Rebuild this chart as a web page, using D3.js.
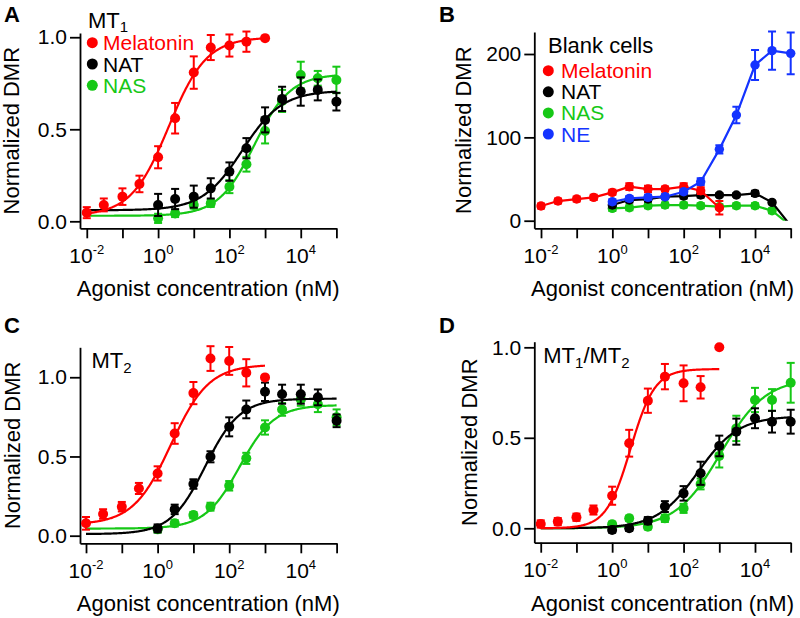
<!DOCTYPE html>
<html><head><meta charset="utf-8">
<script src="https://cdn.jsdelivr.net/npm/d3@7"></script>
<style>
body{margin:0;background:#fff}
svg text{font-family:"Liberation Sans",Arial,Helvetica,sans-serif}
</style>
</head><body>
<svg id="chart" width="800" height="618"></svg>
<script>
// ---------------- DATA ----------------
const concLow  = [0.01,0.03,0.1,0.3,1,3,10,30,100,300,1000];          // nM
const concHigh = [1,3,10,30,100,300,1000,3000,10000,30000,100000];    // nM
const xTickExps  = [-2,-1,0,1,2,3,4,5];
const xLabelExps = [-2,0,2,4];
const seriesNames = ["Melatonin","NAT","NAS","NE"];

// Panel A: MT1
const aMel    = [0.047,0.089,0.134,0.203,0.348,0.56,0.808,0.944,0.955,0.976,0.995];
const aMelErr = [0.03,0.035,0.045,0.045,0.06,0.083,0.088,0.068,0.06,0.055,0];
const aNat    = [0.089,0.121,0.134,0.179,0.27,0.397,0.551,0.665,0.705,0.714,0.65];
const aNatErr = [0.06,0.055,0.06,0.055,0.05,0.055,0.068,0.066,0.077,0.057,0.048];
const aNas    = [0.016,0.043,0.089,0.098,0.188,0.31,0.491,0.654,0.795,0.777,0.768];
const aNasErr = [0.025,0.02,0.02,0.02,0.035,0.04,0.068,0.06,0.072,0.04,0.072];
// fit: [bottom, top, logEC50, hill, logXfrom, logXto]
const aMelFit = [0.03,1.0,0.30,0.82,-2,3];
const aNatFit = [0.06,0.71,2.36,0.78,-2,5];
const aNasFit = [0.03,0.80,2.70,0.86,-2,5];

// Panel B: blank cells
const bMel    = [17.6,23.6,26,28,34,40.8,38,38,40.8,36,15.6];
const bMelErr = [3,3,3,3,3,4,4,3,4,4,8];
const bNat    = [18.8,24.8,26,28.8,29.6,30.8,30.8,30.8,32.8,22,-6];
const bNatErr = [3,3,3,2,3,3,2,2,3,2,0];
const bNas    = [14.8,15.6,18,18.8,18.8,18,16.8,18,18,12,-6];
const bNasErr = [3,3,3,3,3,3,3,3,3,3,0];
const bNe     = [22.8,26.8,28,28.8,34.8,46.8,85.6,126.8,186.8,204,200.8];
const bNeErr  = [3,3,3,3,3,4,5,10,18,23,25];

// Panel C: MT2
const cMel    = [0.078,0.137,0.183,0.298,0.393,0.645,0.9,1.118,1.103,1.028,0.999];
const cMelErr = [0.04,0.03,0.03,0.035,0.045,0.065,0.07,0.078,0.088,0.086,0];
const cNat    = [0.046,0.166,0.326,0.498,0.687,0.797,0.908,0.893,0.893,0.873,0.725];
const cNatErr = [0.025,0.03,0.03,0.035,0.06,0.056,0.058,0.06,0.06,0.05,0.04];
const cNas    = [0.04,0.078,0.13,0.183,0.315,0.488,0.683,0.797,0.86,0.83,0.747];
const cNasErr = [0.02,0.02,0.02,0.025,0.03,0.035,0.045,0.04,0.04,0.05,0.05];
const cMelFit = [0.07,1.08,0.373,0.82,-2,3];
const cNatFit = [0.01,0.865,1.33,0.90,-2,5];
const cNasFit = [0.045,0.825,2.29,0.90,-2,5];

// Panel D: MT1/MT2
const dMel    = [0.024,0.037,0.061,0.101,0.18,0.47,0.705,0.838,0.801,0.779,1.0];
const dMelErr = [0.02,0.02,0.02,0.025,0.05,0.074,0.067,0.07,0.099,0.062,0];
const dNat    = [-0.009,0,0.042,0.12,0.193,0.304,0.455,0.534,0.608,0.589,0.589];
const dNatErr = [0.015,0.015,0.02,0.03,0.04,0.064,0.057,0.072,0.055,0.06,0.066];
const dNas    = [0.022,0.055,0.009,0.055,0.11,0.245,0.4,0.552,0.709,0.709,0.804];
const dNasErr = [0.015,0.015,0.015,0.02,0.025,0.03,0.064,0.07,0.067,0.06,0.11];
const dMelFit = [0,0.88,0.516,1.28,-2,3];
const dNatFit = [0,0.62,2.40,0.76,-2,5];
const dNasFit = [0,0.83,3.04,0.69,-2,5];

// ---------------- STYLE / LAYOUT ----------------
const COL = {Melatonin:"#ff0000", NAT:"#000000", NAS:"#16c816", NE:"#1433ff"};
const FONT = 21;

const panels = [
  {letter:"A", lx:4, ly:22, left:80, right:336.4, logLeft:-2.19, bottom:228.3, top:33,
   yd:[-0.038,1.023], yTicks:[0,0.5,1], yFmt:".1f", yTitleX:19, r:5,
   title:{x:88, y:28, sub:4, parts:[["MT",0],["1",1]]},
   legend:{x:92.3, y:42.7, dy:21.3, tx:103, items:["Melatonin","NAT","NAS"]},
   series:[
     {name:"NAS", conc:concHigh, v:aNas, e:aNasErr, fit:aNasFit},
     {name:"NAT", conc:concHigh, v:aNat, e:aNatErr, fit:aNatFit},
     {name:"Melatonin", conc:concLow, v:aMel, e:aMelErr, fit:aMelFit}]},
  {letter:"B", lx:439, ly:22, left:534.3, right:790.7, logLeft:-2.188, bottom:228.3, top:32,
   yd:[-9.1,226.4], yTicks:[0,100,200], yFmt:"d", yTitleX:471, r:4.7, clipZero:true,
   title:{x:548, y:53, sub:5, parts:[["Blank cells",0]]},
   legend:{x:548.3, y:70.7, dy:21.1, tx:561, items:["Melatonin","NAT","NAS","NE"]},
   series:[
     {name:"NAS", conc:concHigh, v:bNas, e:bNasErr},
     {name:"NAT", conc:concHigh, v:bNat, e:bNatErr},
     {name:"Melatonin", conc:concLow, v:bMel, e:bMelErr},
     {name:"NE", conc:concHigh, v:bNe, e:bNeErr}]},
  {letter:"C", lx:4, ly:333, left:80, right:336.6, logLeft:-2.168, bottom:543.3, top:347.3,
   yd:[-0.048,1.189], yTicks:[0,0.5,1], yFmt:".1f", yTitleX:20, r:5,
   title:{x:91.5, y:368, sub:5, parts:[["MT",0],["2",1]]},
   series:[
     {name:"NAS", conc:concHigh, v:cNas, e:cNasErr, fit:cNasFit},
     {name:"NAT", conc:concHigh, v:cNat, e:cNatErr, fit:cNatFit},
     {name:"Melatonin", conc:concLow, v:cMel, e:cMelErr, fit:cMelFit}]},
  {letter:"D", lx:439, ly:333, left:534.3, right:790.7, logLeft:-2.18, bottom:542.7, top:341.7,
   yd:[-0.0796,1.031], yTicks:[0,0.5,1], yFmt:".1f", yTitleX:477, r:5,
   title:{x:543.3, y:363, sub:5, parts:[["MT",0],["1",1],["/MT",0],["2",1]]},
   series:[
     {name:"NAS", conc:concHigh, v:dNas, e:dNasErr, fit:dNasFit},
     {name:"NAT", conc:concHigh, v:dNat, e:dNatErr, fit:dNatFit},
     {name:"Melatonin", conc:concLow, v:dMel, e:dMelErr, fit:dMelFit}]}
];

const svg = d3.select("#chart");
const hill = (p, lx) => p[0] + (p[1]-p[0])/(1+Math.pow(10,(p[2]-lx)*p[3]));

panels.forEach((p, pi) => {
  const g = svg.append("g");
  const x = d3.scaleLog().domain([Math.pow(10,p.logLeft), 1e5]).range([p.left, p.right]);
  const y = d3.scaleLinear().domain(p.yd).range([p.bottom, p.top]);

  // panel letter
  g.append("text").attr("x",p.lx).attr("y",p.ly).attr("font-size",22).attr("font-weight","bold").text(p.letter);

  // axes
  const xa = g.append("g").attr("transform",`translate(0,${p.bottom})`)
    .call(d3.axisBottom(x).tickValues(xTickExps.map(e=>Math.pow(10,e))).tickSize(10).tickSizeOuter(0).tickFormat(""));
  const ya = g.append("g").attr("transform",`translate(${p.left},0)`)
    .call(d3.axisLeft(y).tickValues(p.yTicks).tickSize(10).tickPadding(3).tickSizeOuter(0).tickFormat(d3.format(p.yFmt)));
  [xa,ya].forEach(a=>{ a.selectAll("path,line").attr("stroke","#000").attr("stroke-width",1.8);
                       a.selectAll("text").attr("font-size",FONT).attr("fill","#000").attr("font-family",null); });

  xLabelExps.forEach(e=>{
    const t = g.append("text").attr("x",x(Math.pow(10,e))).attr("y",p.bottom+34.5)
      .attr("text-anchor","middle").attr("font-size",FONT);
    t.append("tspan").text("10");
    t.append("tspan").attr("dy",-9).attr("font-size",13).text(String(e));
  });
  g.append("text").attr("x",(p.left+p.right)/2).attr("y",p.bottom+68)
    .attr("text-anchor","middle").attr("font-size",22).text("Agonist concentration (nM)");
  g.append("text").attr("transform",`translate(${p.yTitleX},${(p.top+p.bottom)/2}) rotate(-90)`)
    .attr("text-anchor","middle").attr("font-size",22).text("Normalized DMR");

  // title
  const tt = g.append("text").attr("x",p.title.x).attr("y",p.title.y).attr("font-size",22);
  let shifted = 0;
  p.title.parts.forEach(([s,sub])=>{
    const off = sub ? p.title.sub : 0;
    tt.append("tspan").attr("dy",off - shifted).attr("font-size",sub?15:22).text(s);
    shifted = off;
  });

  // legend
  if (p.legend) {
    p.legend.items.forEach((n,i)=>{
      const cy = p.legend.y + i*p.legend.dy;
      g.append("circle").attr("cx",p.legend.x).attr("cy",cy).attr("r",5.5).attr("fill",COL[n]);
      g.append("text").attr("x",p.legend.tx).attr("y",cy+7.5).attr("font-size",21).attr("fill",COL[n]).text(n);
    });
  }

  // data area
  const plot = g.append("g");
  if (p.clipZero) {
    const id = "clip"+pi;
    svg.append("defs").append("clipPath").attr("id",id).append("rect")
      .attr("x",p.left).attr("y",0).attr("width",800-p.left).attr("height",y(0));
    plot.attr("clip-path",`url(#${id})`);
  }
  p.series.forEach(s=>{
    const c = COL[s.name];
    const pts = s.conc.map((cc,i)=>({x:cc, v:s.v[i], e:s.e[i]}));
    if (s.fit) {
      const f = s.fit;
      const lxs = d3.range(f[4], f[5]+1e-9, 0.02);
      plot.append("path").datum(lxs)
        .attr("d", d3.line().x(l=>x(Math.pow(10,l))).y(l=>y(hill(f,l))).curve(d3.curveLinear))
        .attr("fill","none").attr("stroke",c).attr("stroke-width",2.2);
    } else {
      plot.append("path").datum(pts)
        .attr("d", d3.line().x(d=>x(d.x)).y(d=>y(d.v)))
        .attr("fill","none").attr("stroke",c).attr("stroke-width",2.2);
    }
    const eb = plot.append("g").attr("stroke",c).attr("stroke-width",2);
    pts.filter(d=>d.e>0).forEach(d=>{
      const cx = x(d.x), y1 = y(d.v+d.e), y2 = y(d.v-d.e);
      eb.append("line").attr("x1",cx).attr("x2",cx).attr("y1",y1).attr("y2",y2);
      eb.append("line").attr("x1",cx-4).attr("x2",cx+4).attr("y1",y1).attr("y2",y1);
      eb.append("line").attr("x1",cx-4).attr("x2",cx+4).attr("y1",y2).attr("y2",y2);
    });
    plot.append("g").selectAll("circle").data(pts).join("circle")
      .attr("cx",d=>x(d.x)).attr("cy",d=>y(d.v)).attr("r",p.r).attr("fill",c);
  });
});
</script>
</body></html>
